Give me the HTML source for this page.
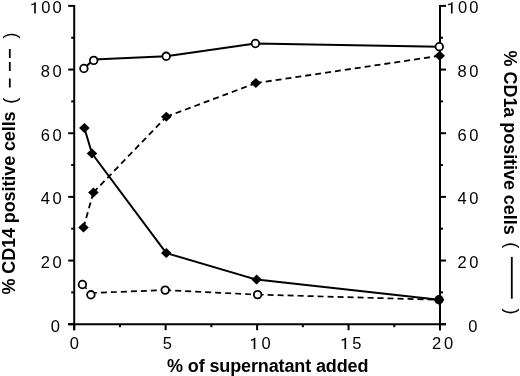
<!DOCTYPE html>
<html><head><meta charset="utf-8"><style>
html,body{margin:0;padding:0;background:#fff;}
body{width:520px;height:376px;overflow:hidden;position:relative;}
svg{position:absolute;left:0;top:0;will-change:transform;}
.t{font-family:"Liberation Sans",sans-serif;font-size:16.5px;fill:#000;}
.b{font-family:"Liberation Sans",sans-serif;font-size:18px;font-weight:bold;fill:#000;}
.p{font-family:"Liberation Sans",sans-serif;font-size:18px;fill:#000;}
</style></head><body>
<svg width="520" height="376" viewBox="0 0 520 376">
<line x1="74.20" y1="4.90" x2="74.20" y2="330.20" stroke="#000" stroke-width="2.0" />
<line x1="440.00" y1="4.90" x2="440.00" y2="330.20" stroke="#000" stroke-width="2.0" />
<line x1="68.20" y1="324.20" x2="446.00" y2="324.20" stroke="#000" stroke-width="2.0" />
<line x1="68.20" y1="324.20" x2="74.20" y2="324.20" stroke="#000" stroke-width="2.0" />
<line x1="440.00" y1="324.20" x2="446.00" y2="324.20" stroke="#000" stroke-width="2.0" />
<line x1="71.20" y1="292.37" x2="74.20" y2="292.37" stroke="#000" stroke-width="2.0" />
<line x1="440.00" y1="292.37" x2="443.00" y2="292.37" stroke="#000" stroke-width="2.0" />
<line x1="68.20" y1="260.54" x2="74.20" y2="260.54" stroke="#000" stroke-width="2.0" />
<line x1="440.00" y1="260.54" x2="446.00" y2="260.54" stroke="#000" stroke-width="2.0" />
<line x1="71.20" y1="228.71" x2="74.20" y2="228.71" stroke="#000" stroke-width="2.0" />
<line x1="440.00" y1="228.71" x2="443.00" y2="228.71" stroke="#000" stroke-width="2.0" />
<line x1="68.20" y1="196.88" x2="74.20" y2="196.88" stroke="#000" stroke-width="2.0" />
<line x1="440.00" y1="196.88" x2="446.00" y2="196.88" stroke="#000" stroke-width="2.0" />
<line x1="71.20" y1="165.05" x2="74.20" y2="165.05" stroke="#000" stroke-width="2.0" />
<line x1="440.00" y1="165.05" x2="443.00" y2="165.05" stroke="#000" stroke-width="2.0" />
<line x1="68.20" y1="133.22" x2="74.20" y2="133.22" stroke="#000" stroke-width="2.0" />
<line x1="440.00" y1="133.22" x2="446.00" y2="133.22" stroke="#000" stroke-width="2.0" />
<line x1="71.20" y1="101.39" x2="74.20" y2="101.39" stroke="#000" stroke-width="2.0" />
<line x1="440.00" y1="101.39" x2="443.00" y2="101.39" stroke="#000" stroke-width="2.0" />
<line x1="68.20" y1="69.56" x2="74.20" y2="69.56" stroke="#000" stroke-width="2.0" />
<line x1="440.00" y1="69.56" x2="446.00" y2="69.56" stroke="#000" stroke-width="2.0" />
<line x1="71.20" y1="37.73" x2="74.20" y2="37.73" stroke="#000" stroke-width="2.0" />
<line x1="440.00" y1="37.73" x2="443.00" y2="37.73" stroke="#000" stroke-width="2.0" />
<line x1="68.20" y1="5.90" x2="74.20" y2="5.90" stroke="#000" stroke-width="2.0" />
<line x1="440.00" y1="5.90" x2="446.00" y2="5.90" stroke="#000" stroke-width="2.0" />
<line x1="74.20" y1="324.20" x2="74.20" y2="330.20" stroke="#000" stroke-width="2.0" />
<line x1="119.93" y1="324.20" x2="119.93" y2="327.20" stroke="#000" stroke-width="2.0" />
<line x1="165.65" y1="324.20" x2="165.65" y2="330.20" stroke="#000" stroke-width="2.0" />
<line x1="211.38" y1="324.20" x2="211.38" y2="327.20" stroke="#000" stroke-width="2.0" />
<line x1="257.10" y1="324.20" x2="257.10" y2="330.20" stroke="#000" stroke-width="2.0" />
<line x1="302.82" y1="324.20" x2="302.82" y2="327.20" stroke="#000" stroke-width="2.0" />
<line x1="348.55" y1="324.20" x2="348.55" y2="330.20" stroke="#000" stroke-width="2.0" />
<line x1="394.27" y1="324.20" x2="394.27" y2="327.20" stroke="#000" stroke-width="2.0" />
<line x1="440.00" y1="324.20" x2="440.00" y2="330.20" stroke="#000" stroke-width="2.0" />
<polyline points="83.50,227.60 93.40,192.50" fill="none" stroke="#000" stroke-width="1.8" stroke-linejoin="round" stroke-dasharray="6 4" stroke-dashoffset="0"/>
<polyline points="93.40,192.50 166.30,116.80" fill="none" stroke="#000" stroke-width="1.8" stroke-linejoin="round" stroke-dasharray="6 4" stroke-dashoffset="0"/>
<polyline points="166.30,116.80 255.80,83.10" fill="none" stroke="#000" stroke-width="1.8" stroke-linejoin="round" stroke-dasharray="6 4" stroke-dashoffset="0"/>
<polyline points="255.80,83.10 439.70,55.80" fill="none" stroke="#000" stroke-width="1.8" stroke-linejoin="round" stroke-dasharray="6 4" stroke-dashoffset="0"/>
<polyline points="82.40,284.50 90.90,293.00" fill="none" stroke="#000" stroke-width="1.7" stroke-linejoin="round" stroke-dasharray="6 4" stroke-dashoffset="0"/>
<polyline points="90.90,293.00 165.20,290.10" fill="none" stroke="#000" stroke-width="1.7" stroke-linejoin="round" stroke-dasharray="6 4" stroke-dashoffset="0"/>
<polyline points="165.20,290.10 257.60,294.60" fill="none" stroke="#000" stroke-width="1.7" stroke-linejoin="round" stroke-dasharray="6 4" stroke-dashoffset="0"/>
<polyline points="257.60,294.60 439.00,299.80" fill="none" stroke="#000" stroke-width="1.7" stroke-linejoin="round" stroke-dasharray="6 4" stroke-dashoffset="0"/>
<polyline points="83.90,68.50 93.70,59.60 166.20,56.30 255.40,43.50 439.30,46.70" fill="none" stroke="#000" stroke-width="2.0" stroke-linejoin="round"/>
<polyline points="84.40,128.10 92.00,153.50 166.30,253.10 256.60,279.60 439.00,299.80" fill="none" stroke="#000" stroke-width="2.0" stroke-linejoin="round"/>
<circle cx="82.40" cy="284.50" r="3.8" fill="#fff" stroke="#000" stroke-width="1.8"/>
<circle cx="90.90" cy="294.80" r="3.8" fill="#fff" stroke="#000" stroke-width="1.8"/>
<circle cx="165.20" cy="290.10" r="3.8" fill="#fff" stroke="#000" stroke-width="1.8"/>
<circle cx="257.60" cy="294.60" r="3.8" fill="#fff" stroke="#000" stroke-width="1.8"/>
<circle cx="439.00" cy="299.80" r="3.8" fill="#fff" stroke="#000" stroke-width="1.8"/>
<circle cx="83.90" cy="68.50" r="3.8" fill="#fff" stroke="#000" stroke-width="1.8"/>
<circle cx="93.70" cy="60.40" r="3.8" fill="#fff" stroke="#000" stroke-width="1.8"/>
<circle cx="166.20" cy="56.30" r="3.8" fill="#fff" stroke="#000" stroke-width="1.8"/>
<circle cx="255.40" cy="43.50" r="3.8" fill="#fff" stroke="#000" stroke-width="1.8"/>
<circle cx="439.30" cy="46.70" r="3.8" fill="#fff" stroke="#000" stroke-width="1.8"/>
<path d="M78.20,227.60L83.50,222.60L88.80,227.60L83.50,232.60Z" fill="#000"/>
<path d="M88.10,192.50L93.40,187.50L98.70,192.50L93.40,197.50Z" fill="#000"/>
<path d="M161.00,116.80L166.30,111.80L171.60,116.80L166.30,121.80Z" fill="#000"/>
<path d="M250.50,83.10L255.80,78.10L261.10,83.10L255.80,88.10Z" fill="#000"/>
<path d="M434.40,55.80L439.70,50.80L445.00,55.80L439.70,60.80Z" fill="#000"/>
<path d="M79.10,128.10L84.40,123.10L89.70,128.10L84.40,133.10Z" fill="#000"/>
<path d="M86.70,153.50L92.00,148.50L97.30,153.50L92.00,158.50Z" fill="#000"/>
<path d="M161.00,253.10L166.30,248.10L171.60,253.10L166.30,258.10Z" fill="#000"/>
<path d="M251.30,279.60L256.60,274.60L261.90,279.60L256.60,284.60Z" fill="#000"/>
<path d="M433.70,299.80L439.00,294.80L444.30,299.80L439.00,304.80Z" fill="#000"/>
<g class="t">
<text x="50.87" y="331.78">0</text>
<text x="468.27" y="331.78">0</text>
<text x="40.69" y="268.12">2</text>
<text x="52.47" y="268.12">0</text>
<text x="457.49" y="268.12">2</text>
<text x="469.27" y="268.12">0</text>
<text x="40.69" y="204.46">4</text>
<text x="52.47" y="204.46">0</text>
<text x="457.49" y="204.46">4</text>
<text x="469.27" y="204.46">0</text>
<text x="40.69" y="140.80">6</text>
<text x="52.47" y="140.80">0</text>
<text x="457.49" y="140.80">6</text>
<text x="469.27" y="140.80">0</text>
<text x="40.69" y="77.14">8</text>
<text x="52.47" y="77.14">0</text>
<text x="457.49" y="77.14">8</text>
<text x="469.27" y="77.14">0</text>
<path d="M34.18,13.48L35.80,13.48L35.80,2.13L34.59,2.13C34.30,3.09 33.18,3.69 31.40,3.81L31.40,5.26C32.69,5.26 33.66,4.94 34.18,4.46Z"/>
<text x="41.29" y="13.48">0</text>
<text x="52.47" y="13.48">0</text>
<path d="M450.98,13.48L452.60,13.48L452.60,2.13L451.39,2.13C451.10,3.09 449.98,3.69 448.20,3.81L448.20,5.26C449.49,5.26 450.46,4.94 450.98,4.46Z"/>
<text x="458.09" y="13.48">0</text>
<text x="469.27" y="13.48">0</text>
<text x="69.86" y="349.08">0</text>
<text x="162.78" y="349.00">5</text>
<path d="M253.71,349.08L255.33,349.08L255.33,337.73L254.11,337.73C253.83,338.69 252.70,339.29 250.93,339.41L250.93,340.86C252.22,340.86 253.19,340.54 253.71,340.06Z"/>
<text x="261.57" y="349.08">0</text>
<path d="M344.49,349.00L346.10,349.00L346.10,337.64L344.89,337.64C344.61,338.60 343.48,339.21 341.71,339.33L341.71,340.78C342.99,340.78 343.96,340.46 344.49,339.97Z"/>
<text x="352.34" y="349.00">5</text>
<text x="432.11" y="349.08">2</text>
<text x="444.03" y="349.08">0</text>
</g>
<text class="b" letter-spacing="-0.12" x="167.0" y="371.6">% of supernatant added</text>
<text class="b" letter-spacing="-0.1" transform="translate(15.0,294.5) rotate(-90)">% CD14 positive cells</text>
<text class="b" letter-spacing="-0.05" transform="translate(503.9,50.6) rotate(90)">% CD1a positive cells</text>
<text class="p" transform="translate(16.2,103.7) rotate(-90)">(</text>
<text class="p" transform="translate(16.2,38.5) rotate(-90)">)</text>
<line x1="9.8" y1="49.00" x2="9.8" y2="58.00" stroke="#000" stroke-width="1.8"/>
<line x1="9.8" y1="61.90" x2="9.8" y2="71.00" stroke="#000" stroke-width="1.8"/>
<line x1="9.8" y1="78.50" x2="9.8" y2="87.50" stroke="#000" stroke-width="1.8"/>
<text class="p" transform="translate(505.9,242.3) rotate(90)">(</text>
<text class="p" transform="translate(505.9,308.5) rotate(90)">)</text>
<line x1="511.8" y1="256.9" x2="511.8" y2="298.6" stroke="#000" stroke-width="1.8"/>
</svg>
</body></html>
